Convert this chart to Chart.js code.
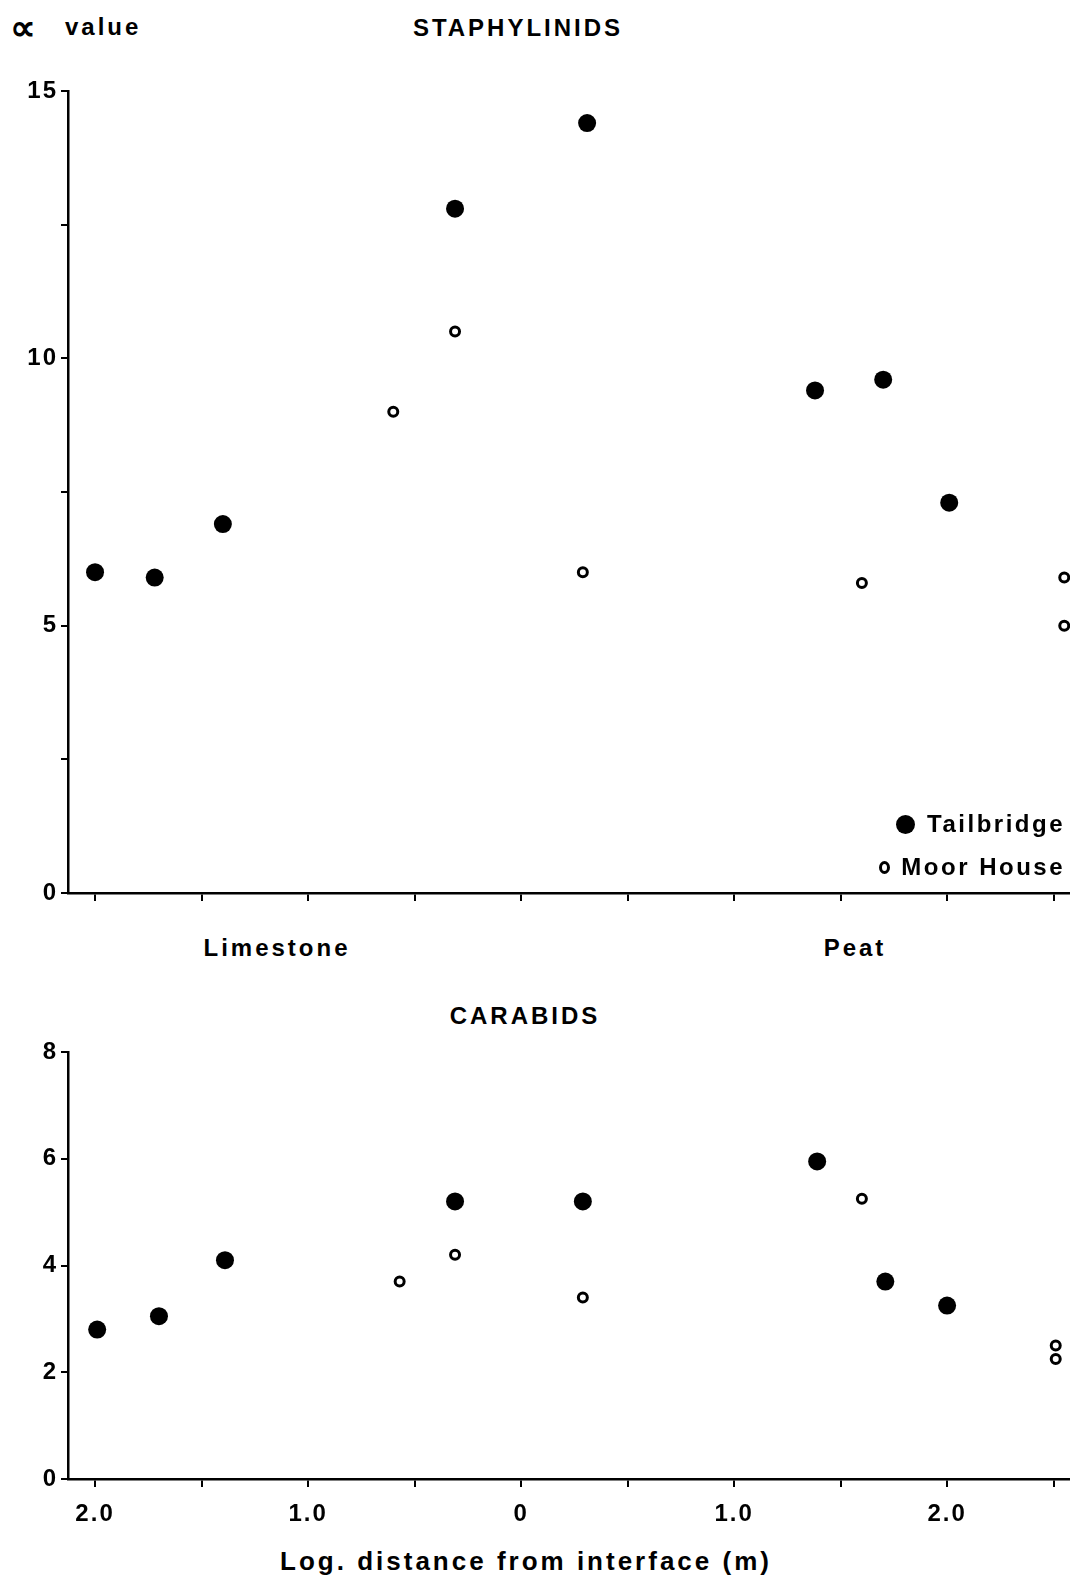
<!DOCTYPE html>
<html lang="en">
<head>
  <meta charset="UTF-8" />
  <title>Alpha values – Staphylinids and Carabids</title>
  <script src="https://cdn.jsdelivr.net/npm/chart.js"></script>
  <style>
    body {
      margin: 0;
      background: #fff;
      color: #000;
      font-family: 'Liberation Sans', Arial, sans-serif;
      font-weight: bold;
    }
    .page {
      position: relative;
      width: 1070px;
      height: 1577px;
      overflow: hidden;
    }
    canvas {
      position: absolute;
      left: 0;
    }
    #topChart { top: 60px; }
    #bottomChart { top: 1030px; }
    .label {
      position: absolute;
      font-size: 24px;
      letter-spacing: 3px;
      white-space: nowrap;
      transform: translate(-50%, -50%);
    }
    .legend-row {
      position: absolute;
      right: 5px;
      font-size: 24px;
      letter-spacing: 2.5px;
      white-space: nowrap;
      transform: translateY(-50%);
      display: flex;
      align-items: center;
    }
    .dot {
      display: inline-block;
      width: 19px;
      height: 19px;
      border-radius: 50%;
      background: #000;
      margin-right: 12px;
    }
    .ring {
      display: inline-block;
      width: 5px;
      height: 7px;
      border-radius: 50%;
      border: 3px solid #000;
      margin-right: 11px;
    }
  </style>
</head>
<body>
  <div class="page">
    <div class="label" style="left:10px; top:28px; transform:translateY(-50%); font-size:36px; letter-spacing:0;">∝</div>
    <div class="label" style="left:65px; top:27px; transform:translateY(-50%);">value</div>
    <div class="label" style="left:518px; top:28px;">STAPHYLINIDS</div>
    <canvas id="topChart" width="1070" height="860"></canvas>
    <div class="legend-row" style="top:824px;"><span class="dot"></span>Tailbridge</div>
    <div class="legend-row" style="top:867px;"><span class="ring"></span>Moor House</div>
    <div class="label" style="left:277px; top:948px;">Limestone</div>
    <div class="label" style="left:855px; top:948px;">Peat</div>
    <div class="label" style="left:525px; top:1016px;">CARABIDS</div>
    <canvas id="bottomChart" width="1070" height="500"></canvas>
    <div class="label" style="left:526px; top:1561px; font-size:26px;">Log. distance from interface (m)</div>
  </div>

  <script>
    // x: log distance, negative = limestone side, positive = peat side
    const xTicks = [-2, -1.5, -1, -0.5, 0, 0.5, 1, 1.5, 2, 2.5];
    const xTickLabels = ['2.0', '', '1.0', '', '0', '', '1.0', '', '2.0', ''];

    const staphYTicks = [0, 2.5, 5, 7.5, 10, 12.5, 15];
    const staphYLabels = ['0', '', '5', '', '10', '', '15'];
    const carabYTicks = [0, 2, 4, 6, 8];
    const carabYLabels = ['0', '2', '4', '6', '8'];

    const staphTailX = [-2.00, -1.72, -1.40, -0.31, 0.31, 1.38, 1.70, 2.01];
    const staphTailY = [6.0, 5.9, 6.9, 12.8, 14.4, 9.4, 9.6, 7.3];
    const staphMoorX = [-0.60, -0.31, 0.29, 1.60, 2.55, 2.55];
    const staphMoorY = [9.0, 10.5, 6.0, 5.8, 5.9, 5.0];

    const carabTailX = [-1.99, -1.70, -1.39, -0.31, 0.29, 1.39, 1.71, 2.00];
    const carabTailY = [2.8, 3.05, 4.1, 5.2, 5.2, 5.95, 3.7, 3.25];
    const carabMoorX = [-0.57, -0.31, 0.29, 1.60, 2.51, 2.51];
    const carabMoorY = [3.7, 4.2, 3.4, 5.25, 2.5, 2.25];

    const pts = (xs, ys) => xs.map((x, i) => ({ x: x, y: ys[i] }));

    // spaced-out lettering like the original typesetting
    const spacing = {
      id: 'spacing',
      beforeDraw(chart) { chart.ctx.letterSpacing = '2px'; }
    };

    function makeChart(canvas, opts) {
      return new Chart(canvas, {
        type: 'scatter',
        data: {
          datasets: [
            {
              label: 'Tailbridge',
              data: opts.tail,
              pointRadius: 9,
              pointHoverRadius: 9,
              backgroundColor: '#000',
              borderColor: '#000',
              borderWidth: 0,
              clip: false
            },
            {
              label: 'Moor House',
              data: opts.moor,
              pointRadius: 4.5,
              pointHoverRadius: 4.5,
              backgroundColor: '#fff',
              borderColor: '#000',
              borderWidth: 3,
              clip: false
            }
          ]
        },
        options: {
          responsive: false,
          animation: false,
          layout: { autoPadding: false, padding: { top: opts.padTop, right: 0, bottom: 0, left: 0 } },
          plugins: {
            legend: { display: false },
            tooltip: { enabled: false }
          },
          scales: {
            x: {
              type: 'linear',
              min: -2.127,
              max: 2.577,
              afterBuildTicks: s => { s.ticks = xTicks.map(v => ({ value: v })); },
              afterFit: s => { s.height = opts.xHeight; },
              border: { display: true, color: '#000', width: 2.5 },
              grid: { drawOnChartArea: false, drawTicks: true, tickLength: 8, color: '#000', lineWidth: 2 },
              ticks: {
                autoSkip: false,
                maxRotation: 0,
                padding: 13,
                color: '#000',
                font: { family: "'Liberation Sans', Arial, sans-serif", size: 24, weight: 'bold' },
                callback: (v, i) => opts.showX ? xTickLabels[i] : ''
              }
            },
            y: {
              type: 'linear',
              min: opts.yTicks[0],
              max: opts.yTicks[opts.yTicks.length - 1],
              afterBuildTicks: s => { s.ticks = opts.yTicks.map(v => ({ value: v })); },
              afterFit: s => { s.width = 68; },
              border: { display: true, color: '#000', width: 2.5 },
              grid: { drawOnChartArea: false, drawTicks: true, tickLength: 7, color: '#000', lineWidth: 2 },
              ticks: {
                autoSkip: false,
                padding: 3,
                color: '#000',
                font: { family: "'Liberation Sans', Arial, sans-serif", size: 24, weight: 'bold' },
                callback: (v, i) => opts.yLabels[i]
              }
            }
          }
        },
        plugins: [spacing]
      });
    }

    makeChart(document.getElementById('topChart'), {
      tail: pts(staphTailX, staphTailY),
      moor: pts(staphMoorX, staphMoorY),
      yTicks: staphYTicks,
      yLabels: staphYLabels,
      padTop: 31,
      xHeight: 27,
      showX: false
    });

    makeChart(document.getElementById('bottomChart'), {
      tail: pts(carabTailX, carabTailY),
      moor: pts(carabMoorX, carabMoorY),
      yTicks: carabYTicks,
      yLabels: carabYLabels,
      padTop: 22,
      xHeight: 51,
      showX: true
    });
  </script>
</body>
</html>
